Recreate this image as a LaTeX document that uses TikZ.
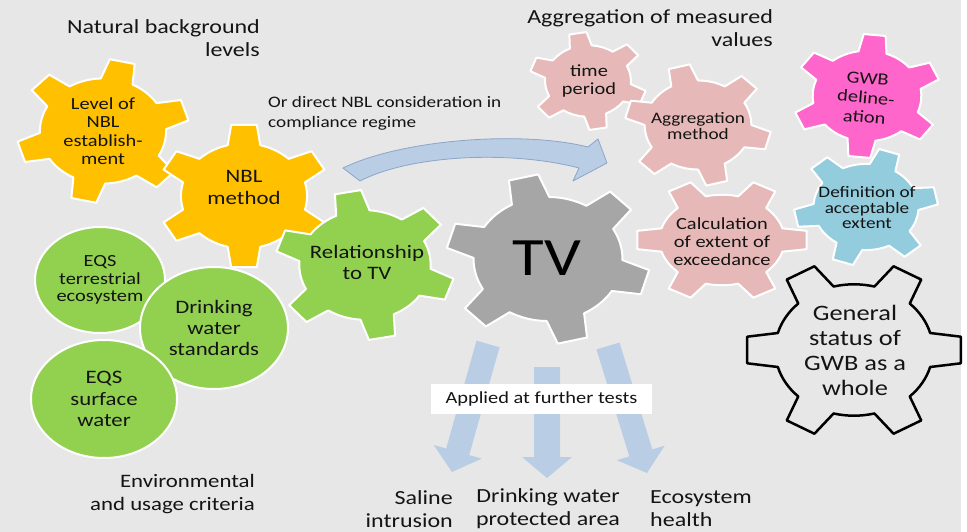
\documentclass[tikz,border=0pt]{standalone}
\usepackage{fontspec}
\setmainfont{Carlito}[FakeStretch=1.2]
\usetikzlibrary{shapes.geometric}
\definecolor{bg}{RGB}{231,231,231}
\definecolor{txt}{RGB}{20,20,20}
\definecolor{gyellow}{RGB}{255,192,0}
\definecolor{ggreen}{RGB}{146,208,80}
\definecolor{ggray}{RGB}{166,166,166}
\definecolor{gpink}{RGB}{230,185,184}
\definecolor{gmag}{RGB}{255,102,204}
\definecolor{gblue}{RGB}{147,205,221}
\definecolor{arr}{RGB}{185,205,229}
\definecolor{arredge}{RGB}{140,165,200}
\newcommand\fsz[2]{\fontsize{#1pt}{#2pt}\selectfont}
% #1 style, #2 center, #3 outer radius, #4 rotation, #5 xscale
\newcommand\gear[5]{%
 \begin{scope}[shift={#2}, yscale=-1, xscale=#5]
  \pgfmathsetmacro\gRi{0.73*#3}
  \path[#1] ({#4+15}:\gRi) \foreach \k in {1,...,6}{
     arc[start angle={#4+(\k-1)*60+15}, end angle={#4+\k*60-15}, radius=\gRi]
     -- ({#4+\k*60-8.5}:#3) -- ({#4+\k*60+8.5}:#3) -- ({#4+\k*60+15}:\gRi)} -- cycle;
 \end{scope}}
\tikzset{
 gearfill/.style={fill=#1, draw=white, line width=2pt, line join=round},
 lbl/.style={text=txt, align=center, inner sep=0pt},
 circ/.style={ellipse, fill=ggreen, draw=white, line width=2pt, text=txt, align=center, inner sep=0pt},
 blockarrow/.style={fill=arr, draw=none},
}
\begin{document}
\begin{tikzpicture}[x=1pt,y=-1pt]
\useasboundingbox (0,0) rectangle (967,532);
\fill[bg] (0,0) rectangle (961,532);

% headings
\node (hnbl) [lbl, align=right, anchor=east, font=\fsz{20}{23}] at (260,38) {Natural background\\levels};
\node (hagg) [lbl, align=right, anchor=east, font=\fsz{20}{23}] at (773,28) {Aggregation of measured\\values};
\node (hdirect) [lbl, align=left, anchor=west, font=\fsz{16}{20}] at (268,113) {Or direct NBL consideration in\\compliance regime};
\node (henv) [lbl, align=right, anchor=east, font=\fsz{19}{23}] at (255,494) {Environmental\\and usage criteria};

% green circles
\node (eqst) [circ, minimum width=130pt, minimum height=106pt, font=\fsz{17}{17.5}] at (100,280) {EQS\\terrestrial\\ecosystem};
\node (dws) [circ, minimum width=148pt, minimum height=122pt, font=\fsz{19}{21}] at (214,328) {Drinking\\water\\standards};
\node (eqss) [circ, minimum width=146pt, minimum height=118pt, font=\fsz{19}{21.5}] at (104,399) {EQS\\surface\\water};

% yellow gears
\gear{gearfill=gyellow}{(103,131)}{72}{17}{1.2}
\node (tlevel) [lbl, font=\fsz{17}{18.5}] at (103,131) {Level of\\NBL\\establish-\\ment};
\gear{gearfill=gyellow}{(244,196)}{72}{30}{1.2}
\node (tnblm) [lbl, font=\fsz{19}{22}] at (244,187) {NBL\\method};

% relationship gear
\gear{gearfill=ggreen}{(365,265)}{75}{41}{1.2}
\node (trel) [lbl, font=\fsz{19}{21}] at (367,262) {Relationship\\to TV};

% curved arrow
\path[fill=arr, draw=arredge, line width=0.8pt, line join=round]
  (343,168) .. controls (400,140) and (520,130) .. (588,147)
  -- (598,139) -- (607,163) -- (573,181) -- (579,168)
  .. controls (510,150) and (410,155) .. (360,181) -- cycle;

% down arrows
\path[blockarrow] (476.5,340.7) -- (499.5,347.3) -- (469.2,455.1) -- (481.7,458.6) -- (452,472) -- (433.7,445.0) -- (446.2,448.5) -- cycle;
\path[blockarrow] (534,367) -- (560,367) -- (560,457) -- (572,457) -- (547,478) -- (522,457) -- (534,457) -- cycle;
\path[blockarrow] (596.5,349.5) -- (619.5,342.5) -- (652.3,449.4) -- (664.7,445.6) -- (647,473) -- (616.9,460.2) -- (629.3,456.4) -- cycle;
\node (applied) [fill=white, text=txt, inner sep=0pt, minimum width=221pt, minimum height=30pt, font=\fsz{17}{20}] at (541.5,399) {Applied at further tests};

% TV gear
\gear{gearfill=ggray}{(548,259)}{85}{44}{1.2}
\node (ttv) [text=black, inner sep=0pt, font=\fsz{54}{60}] at (547,258) {TV};

% pink gears
\gear{gearfill=gpink}{(588,81)}{49}{40}{1.2}
\node (ttime) [lbl, font=\fsz{17}{18}] at (589,81) {time\\period};
\gear{gearfill=gpink}{(698,125)}{61}{45}{1.2}
\node (taggm) [lbl, font=\fsz{16}{16}] at (698,126) {Aggregation\\method};
\gear{gearfill=gpink}{(722,240)}{62}{0}{1.38}
\node (tcalc) [lbl, font=\fsz{17}{18}] at (722,242) {Calculation\\of extent of\\exceedance};

% magenta and blue gears
\gear{gearfill=gmag}{(867,96)}{62}{24}{1.2}
\node (tgwb) [lbl, font=\fsz{17}{19.5}, rotate=-5] at (866,98) {GWB\\deline-\\ation};
\gear{gearfill=gblue}{(866,207)}{59}{11}{1.22}
\node (tdef) [lbl, font=\fsz{16}{15.5}] at (867,208) {Definition of\\acceptable\\extent};

% black outline gear
\gear{fill=bg, draw=black, line width=2.5pt, line join=round}{(854,350)}{90}{0}{1.2}
\node (tgen) [lbl, font=\fsz{22}{25}] at (855,350) {General\\status of\\GWB as a\\whole};

% bottom labels
\node (tsal) [lbl, align=right, anchor=east, font=\fsz{20}{23}] at (453,509) {Saline\\intrusion};
\node (tdwpa) [lbl, font=\fsz{20}{23}] at (548,509) {Drinking water\\protected area};
\node (teco) [lbl, align=left, anchor=west, font=\fsz{20}{23}] at (650,509) {Ecosystem\\health};
\end{tikzpicture}
\end{document}
